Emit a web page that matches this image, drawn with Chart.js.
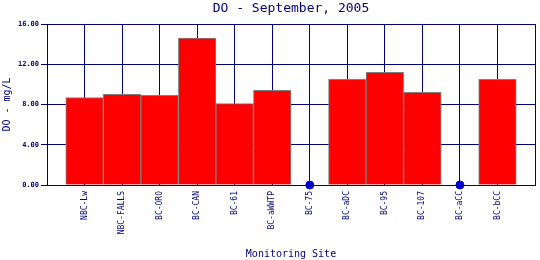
<!DOCTYPE html>
<html>
<head>
<meta charset="utf-8">
<script src="https://cdn.jsdelivr.net/npm/chart.js@4/dist/chart.umd.min.js"></script>
<style>
  html, body { margin: 0; padding: 0; background: #fff; }
  #wrap { width: 540px; height: 260px; }
</style>
</head>
<body>
<div id="wrap"><canvas id="grafica-do"></canvas></div>
<script>
// sites along the x axis, in order
const sites = ['NBC-Lw', 'NBC-FALLS', 'BC-ORO', 'BC-CAN', 'BC-61', 'BC-aWWTP',
               'BC-75', 'BC-aDC', 'BC-95', 'BC-107', 'BC-aCC', 'BC-bCC'];
// dissolved oxygen, mg/L (null = no sample, shown as a dot on the axis)
const doValues = [8.7, 9.0, 8.9, 14.6, 8.1, 9.4, null, 10.5, 11.2, 9.2, null, 10.5];
const yTicks = [0, 4, 8, 12, 16];
const chartTitle = 'DO - September, 2005';

const navy = '#000080';
const mono = 'DejaVu Sans Mono';

const barData = sites.map((s, i) => ({ x: i + 1, y: doValues[i] }));
const missing = sites.map((s, i) => doValues[i] === null ? { x: i + 1, y: 0 } : null)
                     .filter(d => d !== null);

// title centred over the plot area, not the whole canvas
const plotTitle = {
    id: 'plotTitle',
    afterDraw(chart) {
        const ctx = chart.ctx;
        const area = chart.chartArea;
        ctx.save();
        ctx.fillStyle = navy;
        ctx.font = '13px "' + mono + '"';
        ctx.textAlign = 'center';
        ctx.textBaseline = 'middle';
        ctx.fillText(chartTitle, (area.left + area.right) / 2, 9);
        ctx.restore();
    }
};

const config = {
    type: 'bar',
    data: {
        datasets: [
            {
                label: 'DO',
                data: barData,
                backgroundColor: '#ff0000',
                borderColor: '#808080',
                borderWidth: 1,
                barPercentage: 1,
                categoryPercentage: 1,
                order: 2
            },
            {
                type: 'scatter',
                label: 'No data',
                data: missing,
                pointRadius: 4,
                pointBackgroundColor: '#0000cc',
                pointBorderColor: '#0000cc',
                clip: false,
                order: 1
            }
        ]
    },
    options: {
        responsive: true,
        maintainAspectRatio: false,
        animation: false,
        layout: { padding: { top: 24, right: 2, bottom: 0, left: 0 } },
        plugins: {
            legend: { display: false },
            tooltip: { enabled: false },
            title: { display: false }
        },
        scales: {
            x: {
                type: 'linear',
                min: 0,
                max: sites.length + 1,
                offset: false,
                grid: { color: navy, lineWidth: 1, drawTicks: false, offset: false },
                border: { color: navy },
                ticks: {
                    stepSize: 1,
                    autoSkip: false,
                    minRotation: 90,
                    maxRotation: 90,
                    padding: 6,
                    color: navy,
                    font: { family: mono, size: 8 },
                    callback: v => sites[v - 1] || ''
                },
                title: {
                    display: true,
                    text: 'Monitoring Site',
                    color: navy,
                    font: { family: mono, size: 10 },
                    padding: { top: 0, bottom: 0 }
                },
                afterFit: s => { s.height = 75; s.paddingLeft = 0; s.paddingRight = 0; }
            },
            y: {
                min: yTicks[0],
                max: yTicks[yTicks.length - 1],
                grid: { color: navy, lineWidth: 1, tickLength: 6 },
                border: { color: navy },
                afterBuildTicks: s => { s.ticks = yTicks.map(v => ({ value: v })); },
                ticks: {
                    color: navy,
                    padding: 2,
                    font: { family: mono, size: 7, weight: 'bold' },
                    callback: v => v.toFixed(2)
                },
                title: {
                    display: true,
                    text: 'DO - mg/L',
                    color: navy,
                    font: { family: mono, size: 10 },
                    padding: { top: 1, bottom: 0 }
                },
                afterFit: s => { s.width = 47; s.paddingTop = 0; s.paddingBottom = 0; }
            }
        }
    },
    plugins: [plotTitle]
};

var myChart = new Chart(document.getElementById('grafica-do'), config);
</script>
</body>
</html>
